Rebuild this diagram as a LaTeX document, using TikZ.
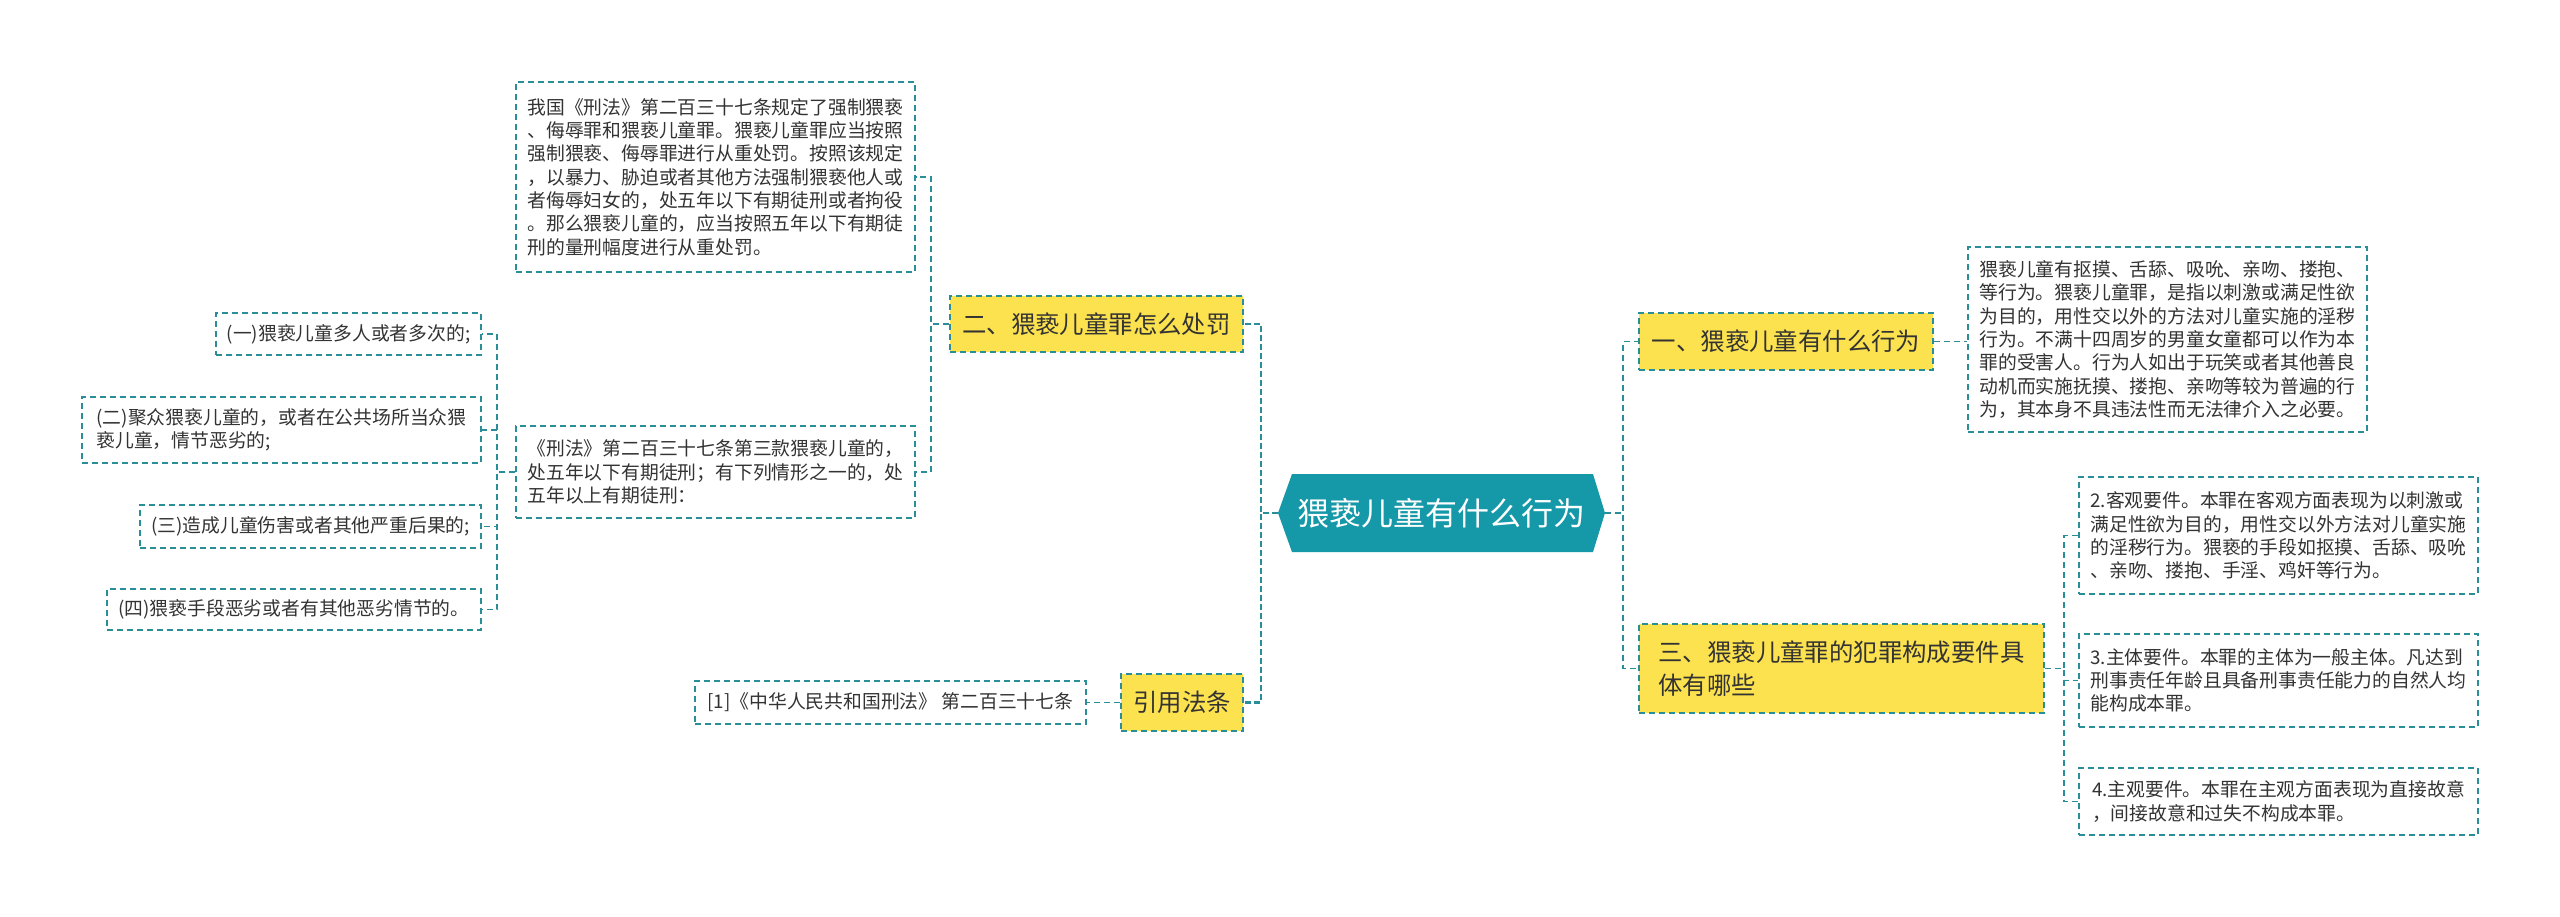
\documentclass[tikz,border=0pt]{standalone}
\usepackage{fontspec}
\setmainfont{Noto Sans CJK SC}
\definecolor{lineC}{HTML}{2A8E99}
\definecolor{hexC}{HTML}{1598A8}
\definecolor{yelC}{HTML}{FDE24F}
\definecolor{txtC}{HTML}{333333}
\begin{document}
\begin{tikzpicture}[x=1pt,y=-1pt,
  conn/.style={draw=lineC, line width=1.8pt, dash pattern=on 6pt off 4pt},
  mainconn/.style={draw=lineC, line width=2.6pt, dash pattern=on 6pt off 3pt},
  leaf/.style={draw=lineC, line width=1.5pt, dash pattern=on 6pt off 4pt, fill=white, text=txtC, align=left, inner sep=0pt, font=\fontsize{18.8pt}{23.3pt}\selectfont},
  topic/.style={draw=lineC, line width=1.8pt, dash pattern=on 6pt off 4pt, fill=yelC, text=txtC, align=left, inner sep=0pt, font=\fontsize{24.4pt}{33pt}\selectfont},
  hexfill/.style={fill=hexC},
  centertext/.style={text=white, inner sep=0pt, minimum width=327pt, minimum height=78pt, font=\fontsize{32pt}{38pt}\selectfont},
]
\useasboundingbox[fill=white] (0,0) rectangle (2560,917);

% central node
\fill[hexfill] (1278,513) -- (1292,474) -- (1593,474) -- (1605,513) -- (1593,552) -- (1292,552) -- cycle;
\node[centertext] (c) at (1441.5,513) {猥亵儿童有什么行为};

% left topics
\node[topic, minimum width=293pt, minimum height=56pt] (er) at (1096.5,324) {二、猥亵儿童罪怎么处罚};
\node[topic, minimum width=122pt, minimum height=57pt] (yy) at (1182,702.5) {引用法条};

% right topics
\node[topic, minimum width=294pt, minimum height=57pt] (yi) at (1786,341.5) {一、猥亵儿童有什么行为};
\node[topic, minimum width=405pt, minimum height=89pt] (san) at (1841.5,668.5) {三、猥亵儿童罪的犯罪构成要件具\\体有哪些};

% leaves of 二
\node[leaf, minimum width=399pt, minimum height=190pt] (b1) at (715.5,177) {我国《刑法》第二百三十七条规定了强制猥亵\\、侮辱罪和猥亵儿童罪。猥亵儿童罪应当按照\\强制猥亵、侮辱罪进行从重处罚。按照该规定\\，以暴力、胁迫或者其他方法强制猥亵他人或\\者侮辱妇女的，处五年以下有期徒刑或者拘役\\。那么猥亵儿童的，应当按照五年以下有期徒\\刑的量刑幅度进行从重处罚。};
\node[leaf, minimum width=399pt, minimum height=92pt] (b2) at (715.5,472) {《刑法》第二百三十七条第三款猥亵儿童的，\\处五年以下有期徒刑；有下列情形之一的，处\\五年以上有期徒刑：};

% items of b2
\node[leaf, minimum width=265pt, minimum height=42pt] (i1) at (348.5,334) {(一)猥亵儿童多人或者多次的;};
\node[leaf, minimum width=399pt, minimum height=66pt] (i2) at (281.5,430) {(二)聚众猥亵儿童的，或者在公共场所当众猥\\亵儿童，情节恶劣的;};
\node[leaf, minimum width=341pt, minimum height=43pt] (i3) at (310.5,526.5) {(三)造成儿童伤害或者其他严重后果的;};
\node[leaf, minimum width=374pt, minimum height=41pt] (i4) at (294,609.5) {(四)猥亵手段恶劣或者有其他恶劣情节的。};

% reference
\node[leaf, minimum width=391pt, minimum height=43pt] (ref) at (890.5,702.5) {[1]《中华人民共和国刑法》 第二百三十七条};

% leaves of 一
\node[leaf, minimum width=399pt, minimum height=185pt] (r1) at (2167.5,339.5) {猥亵儿童有抠摸、舌舔、吸吮、亲吻、搂抱、\\等行为。猥亵儿童罪，是指以刺激或满足性欲\\为目的，用性交以外的方法对儿童实施的淫秽\\行为。不满十四周岁的男童女童都可以作为本\\罪的受害人。行为人如出于玩笑或者其他善良\\动机而实施抚摸、搂抱、亲吻等较为普遍的行\\为，其本身不具违法性而无法律介入之必要。};

% leaves of 三
\node[leaf, minimum width=399pt, minimum height=117pt] (ka) at (2278.5,535.5) {2.客观要件。本罪在客观方面表现为以刺激或\\满足性欲为目的，用性交以外方法对儿童实施\\的淫秽行为。猥亵的手段如抠摸、舌舔、吸吮\\、亲吻、搂抱、手淫、鸡奸等行为。};
\node[leaf, minimum width=399pt, minimum height=93pt] (kb) at (2278.5,680.5) {3.主体要件。本罪的主体为一般主体。凡达到\\刑事责任年龄且具备刑事责任能力的自然人均\\能构成本罪。};
\node[leaf, minimum width=399pt, minimum height=67pt] (kc) at (2278.5,801.5) {4.主观要件。本罪在主观方面表现为直接故意\\，间接故意和过失不构成本罪。};

% connectors: center to topics
\draw[mainconn] (c.west) -- ++(-17,0) |- (er.east);
\draw[mainconn] (c.west) -- ++(-17,0) |- (yy.east);
\draw[conn] (c.east) -- ++(18,0) |- (yi.west);
\draw[conn] (c.east) -- ++(18,0) |- (san.west);

% 二 to leaves
\draw[conn] (er.west) -- ++(-18,0) |- (b1.east);
\draw[conn] (er.west) -- ++(-18,0) |- (b2.east);

% b2 to items
\draw[conn] (b2.west) -- ++(-18,0) |- (i1.east);
\draw[conn] (b2.west) -- ++(-18,0) |- (i2.east);
\draw[conn] (b2.west) -- ++(-18,0) |- (i3.east);
\draw[conn] (b2.west) -- ++(-18,0) |- (i4.east);

% 引用法条 to reference
\draw[conn] (yy.west) -- (ref.east);

% 一 to leaf
\draw[conn] (yi.east) -- (yi.east -| r1.west);

% 三 to leaves
\draw[conn] (san.east) -- ++(19,0) |- (ka.west);
\draw[conn] (san.east) -- ++(19,0) |- (kb.west);
\draw[conn] (san.east) -- ++(19,0) |- (kc.west);
\end{tikzpicture}
\end{document}
